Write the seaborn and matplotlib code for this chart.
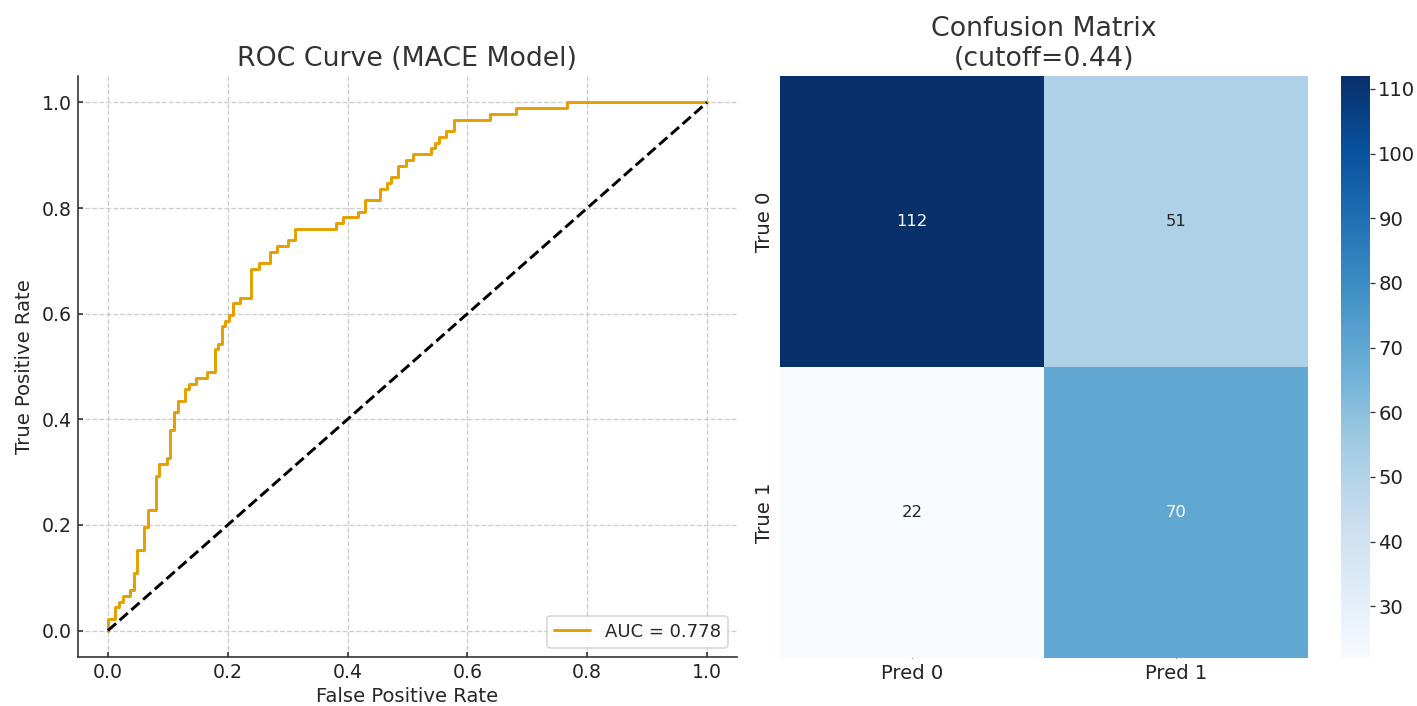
import numpy as np
import matplotlib
matplotlib.use("Agg")
import matplotlib.pyplot as plt
import seaborn as sns

# ROC corner points (fpr, tpr)
fpr = [0.0, 0.0, 0.012, 0.018, 0.025, 0.037, 0.043, 0.049, 0.061, 0.067,
       0.080, 0.086, 0.098, 0.104, 0.110, 0.117, 0.129, 0.135, 0.147, 0.166,
       0.178, 0.184, 0.190, 0.196, 0.202, 0.209, 0.221, 0.239, 0.252, 0.270,
       0.282, 0.301, 0.313, 0.380, 0.393, 0.417, 0.429, 0.454, 0.466, 0.472,
       0.485, 0.497, 0.509, 0.540, 0.546, 0.552, 0.564, 0.577, 0.638, 0.681,
       0.767, 1.0]
tpr = [0.0, 0.022, 0.044, 0.054, 0.065, 0.076, 0.109, 0.152, 0.196, 0.228,
       0.293, 0.315, 0.326, 0.380, 0.413, 0.435, 0.457, 0.467, 0.478, 0.489,
       0.533, 0.543, 0.576, 0.587, 0.598, 0.620, 0.630, 0.685, 0.696, 0.717,
       0.728, 0.739, 0.761, 0.772, 0.783, 0.793, 0.815, 0.837, 0.848, 0.859,
       0.880, 0.891, 0.902, 0.913, 0.924, 0.935, 0.946, 0.967, 0.978, 0.989,
       1.0, 1.0]
auc = 0.778

cm_values = [[112, 51], [22, 70]]
cm_rows = ["True 0", "True 1"]
cm_cols = ["Pred 0", "Pred 1"]
cutoff = 0.44

sns.set_style("white")
plt.rcParams['font.family'] = ['DejaVu Sans']

DPI = 118
fig = plt.figure(figsize=(1417 / DPI, 706 / DPI), dpi=DPI)

# ROC curve
ax1 = fig.add_axes([0.0550, 0.0694, 0.4651, 0.8229])
sns.lineplot(x=fpr, y=tpr, ax=ax1, color='#E69F00', linewidth=1.8,
             drawstyle='steps-post', sort=False, estimator=None,
             label=f'AUC = {auc:.3f}')
ax1.plot([0, 1], [0, 1], 'k--', linewidth=1.8)
ax1.set_xlim(-0.05, 1.05)
ax1.set_ylim(-0.05, 1.05)
ax1.set_xticks(np.arange(0, 1.01, 0.2))
ax1.set_yticks(np.arange(0, 1.01, 0.2))
ax1.grid(True, linestyle='--', color='#cccccc', linewidth=0.8)
for s in ['top', 'right']:
    ax1.spines[s].set_visible(False)
for s in ['left', 'bottom']:
    ax1.spines[s].set_color('#333333')
    ax1.spines[s].set_linewidth(1.0)
ax1.tick_params(axis='both', labelsize=11.5, direction='in', length=3,
                width=1.0, left=True, bottom=True, colors='#333333',
                labelcolor='#222222')
ax1.set_xlabel('False Positive Rate', fontsize=12, labelpad=3)
ax1.set_ylabel('True Positive Rate', fontsize=12, labelpad=5)
ax1.set_title('ROC Curve (MACE Model)', fontsize=16.3, color='#333333')
ax1.legend(loc='lower right', fontsize=11, frameon=True, edgecolor='#cccccc')

# Confusion matrix
ax2 = fig.add_axes([0.5505, 0.0680, 0.3726, 0.8244])
cax = fig.add_axes([0.9464, 0.0680, 0.0205, 0.8244])
sns.heatmap(np.array(cm_values), annot=True, fmt='d', cmap='Blues',
            xticklabels=cm_cols, yticklabels=cm_rows, ax=ax2, cbar_ax=cax,
            annot_kws={'fontsize': 10})
ax2.set_yticklabels(cm_rows, rotation=90, va='center')
ax2.tick_params(axis='both', labelsize=12, length=3, direction='in',
                left=True, bottom=True, colors='#333333', labelcolor='#222222')
ax2.set_title(f'Confusion Matrix\n(cutoff={cutoff})', fontsize=16.3,
              color='#333333')
cax.tick_params(labelsize=12, length=3, pad=2, colors='#333333',
                labelcolor='#222222')
cax.yaxis.set_ticks(np.arange(30, 111, 10))

fig.savefig('out.png', dpi=DPI)
